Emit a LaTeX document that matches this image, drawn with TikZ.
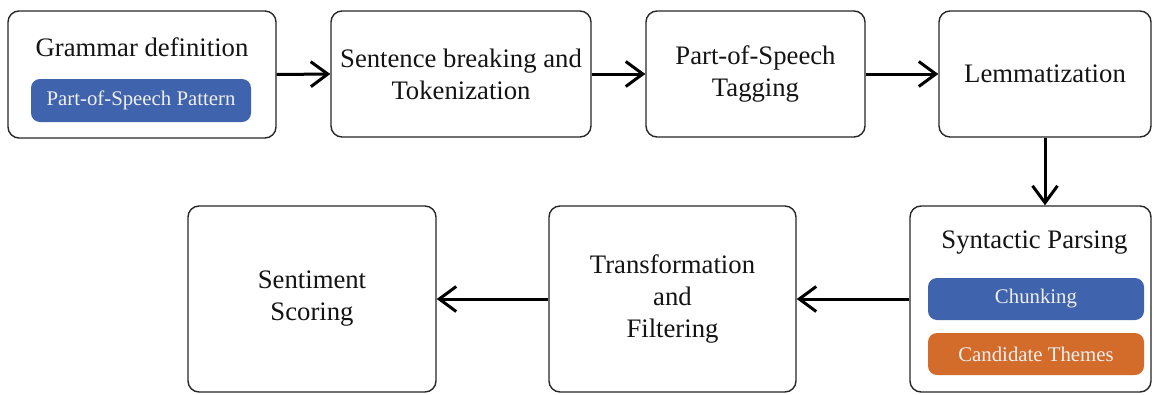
\documentclass[tikz,border=0pt]{standalone}
\usepackage{fontspec}
\setmainfont{Liberation Serif}
\usetikzlibrary{arrows.meta}
\definecolor{pillblue}{HTML}{3F63AD}
\definecolor{pillorange}{HTML}{D36B2B}
\begin{document}
\begin{tikzpicture}[x=1pt,y=-1pt,
  box/.style={draw=black!85, line width=1.4pt, rounded corners=11pt, fill=white, inner sep=0pt,
              font=\fontsize{26.7}{32}\selectfont, align=center, text=black!92},
  pill/.style={rounded corners=9pt, inner sep=0pt, text=white!94!black,
              font=\fontsize{20.8}{24}\selectfont},
  lbl/.style={font=\fontsize{26.7}{32}\selectfont, align=center, text=black!92, inner sep=0pt},
  flow/.style={line width=3pt, -{Straight Barb[length=17pt,width=25pt,line width=3pt]}}]
\useasboundingbox (0,0) rectangle (1154,394);

% top row
\node[box, minimum width=268pt, minimum height=127pt] (gram) at (142,74.5) {};
\node[lbl] (gramt) at (142,47) {Grammar definition};
\node[pill, fill=pillblue, minimum width=220pt, minimum height=43pt] (pos) at (141,100.5) {Part-of-Speech Pattern};

\node[box, minimum width=260pt, minimum height=126pt] (sent) at (461,74) {Sentence breaking and\\Tokenization};
\node[box, minimum width=219pt, minimum height=126pt] (tag) at (755.5,74) {Part-of-Speech\\Tagging};
\node[box, minimum width=212pt, minimum height=126pt] (lem) at (1045,74) {Lemmatization};

% bottom row
\node[box, minimum width=241pt, minimum height=186pt] (syn) at (1030.5,299) {};
\node[lbl] (synt) at (1034.5,243) {Syntactic Parsing};
\node[pill, fill=pillblue, minimum width=216pt, minimum height=42pt] (chunk) at (1036,299) {Chunking};
\node[pill, fill=pillorange, minimum width=216pt, minimum height=42pt] (cand) at (1036,354) {Candidate Themes};

\node[box, minimum width=247pt, minimum height=186pt] (trans) at (672.5,299) {Transformation\\and\\Filtering};
\node[box, minimum width=248pt, minimum height=186pt] (senti) at (312,299) {Sentiment\\Scoring};

% connectors
\draw[flow] (gram.east) -- (sent.west);
\draw[flow] (sent.east) -- (tag.west);
\draw[flow] (tag.east) -- (lem.west);
\draw[flow] (lem.south) -- (lem.south |- syn.north);
\draw[flow] (syn.west) -- (trans.east);
\draw[flow] (trans.west) -- (senti.east);
\end{tikzpicture}
\end{document}
